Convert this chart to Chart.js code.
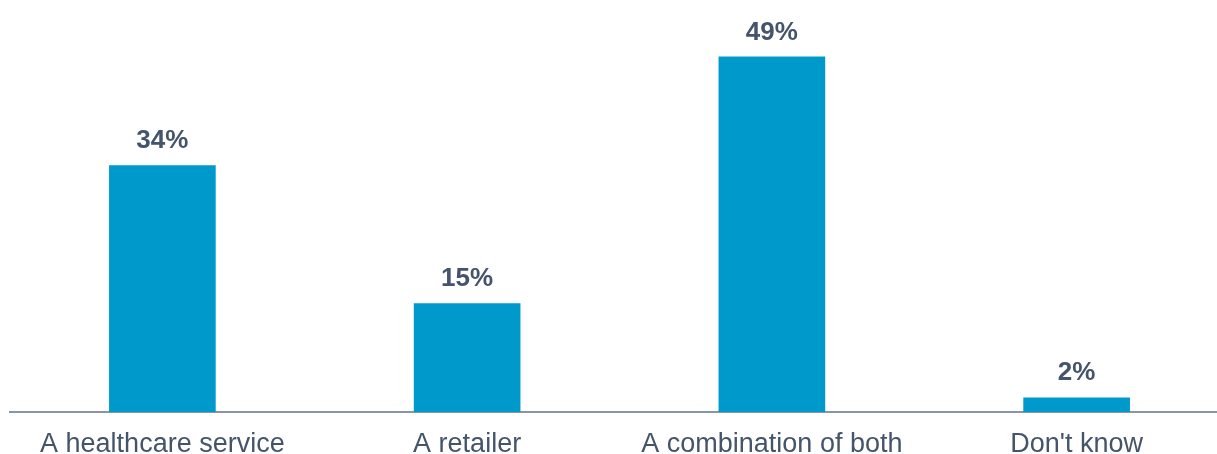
<!DOCTYPE html>
<html>
<head>
<meta charset="utf-8">
<script src="https://cdn.jsdelivr.net/npm/chart.js@4/dist/chart.umd.min.js"></script>
<style>
    html, body { margin: 0; padding: 0; background: #FFFFFF; overflow: hidden; }
    #wrap { position: relative; width: 1240px; height: 454px; }
</style>
</head>
<body>
<div id="wrap"><canvas id="graph_answers"></canvas></div>
<script>
var LABELS_ANSWERS                                          = ['A healthcare service', 'A retailer', 'A combination of both', "Don't know"];
var VALUES_ANSWERS                                          = [34, 15, 49, 2];

var COLOR_BAR                                               = '#0099CC';
var COLOR_TEXT                                              = '#44546A';
var COLOR_AXIS                                              = '#8797A6';



// value labels above each bar
var graph_plugin_values = {
    id: 'graph_values',
    afterDatasetsDraw: function(chart) {
        var ctx = chart.ctx;
        var meta = chart.getDatasetMeta(0);
        ctx.save();
        ctx.font = 'bold 26px "Liberation Sans", Arial, sans-serif';
        ctx.fillStyle = COLOR_TEXT;
        ctx.textAlign = 'center';
        ctx.textBaseline = 'alphabetic';
        meta.data.forEach(function(bar, i) {
            ctx.fillText(VALUES_ANSWERS[i] + '%', bar.x, bar.y - 17);
        });
        ctx.restore();
    }
};



function graph_draw() {

    var canvas = document.getElementById('graph_answers');

    return new Chart(canvas, {
        type: 'bar',
        data: {
            labels: LABELS_ANSWERS,
            datasets: [
                {
                    data: VALUES_ANSWERS,
                    backgroundColor: COLOR_BAR,
                    borderWidth: 0,
                    barPercentage: 0.35,
                    categoryPercentage: 1,
                },
            ]
        },
        options: {
            responsive: true,
            maintainAspectRatio: false,
            animation: false,
            layout: {
                padding: { top: 13, bottom: 0, left: 10, right: 11 }
            },
            scales: {
                y: {
                    display: false,
                    min: 0,
                    max: 55,
                },
                x: {
                    // labels sit low and run off the bottom edge a little
                    afterFit: function(scale) { scale.height = 42; },
                    ticks: {
                        color: COLOR_TEXT,
                        padding: 16,
                        maxRotation: 0,
                        autoSkip: false,
                        font: { family: '"Liberation Sans", Arial, sans-serif', size: 27 }
                    },
                    grid: { display: false, drawTicks: false },
                    border: { width: 2, color: COLOR_AXIS }
                }
            },
            plugins: {
                legend: { display: false },
                tooltip: { enabled: false }
            }
        },
        plugins: [graph_plugin_values]
    });
}

graph_draw();
</script>
</body>
</html>
